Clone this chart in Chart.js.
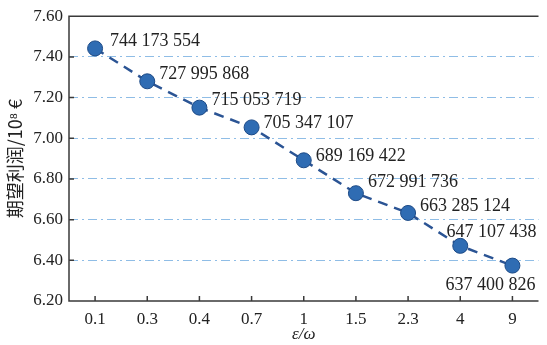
<!DOCTYPE html>
<html>
<head>
<meta charset="utf-8">
<script src="https://cdn.jsdelivr.net/npm/chart.js@4"></script>
<style>
  html, body { margin: 0; padding: 0; background: #fff; }
  #wrap { width: 547px; height: 345px; }
</style>
</head>
<body>
<div id="wrap"><canvas id="myChart" width="547" height="345"></canvas></div>
<script>
// x categories (epsilon/omega)
const ratios = ['0.1', '0.3', '0.4', '0.7', '1', '1.5', '2.3', '4', '9'];
// expected profit, in 10^8 euro
const profit = [7.44173554, 7.27995868, 7.15053719, 7.05347107, 6.89169422, 6.72991736, 6.63285124, 6.47107438, 6.37400826];
// point labels as printed
const profitText = ['744 173 554', '727 995 868', '715 053 719', '705 347 107', '689 169 422', '672 991 736', '663 285 124', '647 107 438', '637 400 826'];
const yTicks = [6.20, 6.40, 6.60, 6.80, 7.00, 7.20, 7.40, 7.60];

const serif = '"Liberation Serif", "Times New Roman", serif';
const axisColor = '#3a3a3a';

// axis lines, top frame, ticks pointing inward
const frame = {
  id: 'frame',
  afterDraw(chart) {
    const ctx = chart.ctx;
    const a = chart.chartArea;
    const xs = chart.scales.x, ys = chart.scales.y;
    ctx.save();
    ctx.setLineDash([]);
    ctx.strokeStyle = axisColor;
    ctx.lineWidth = 1.5;
    ctx.beginPath();
    ctx.moveTo(a.right, a.top);
    ctx.lineTo(a.left, a.top);
    ctx.lineTo(a.left, a.bottom);
    ctx.lineTo(a.right, a.bottom);
    for (let i = 0; i < ratios.length; i++) {
      const x = xs.getPixelForTick(i);
      ctx.moveTo(x, a.bottom);
      ctx.lineTo(x, a.bottom - 5);
    }
    for (let i = 0; i < ys.ticks.length; i++) {
      const y = ys.getPixelForTick(i);
      ctx.moveTo(a.left, y);
      ctx.lineTo(a.left + 5, y);
    }
    ctx.stroke();
    ctx.restore();
  }
};

// value labels next to points
const pointLabels = {
  id: 'pointLabels',
  afterDatasetsDraw(chart) {
    const ctx = chart.ctx;
    const pts = chart.getDatasetMeta(0).data;
    ctx.save();
    ctx.font = '18px ' + serif;
    ctx.fillStyle = '#222';
    ctx.textBaseline = 'middle';
    const last = pts.length - 1;
    pts.forEach((p, i) => {
      if (i === last) {
        ctx.textAlign = 'right';
        ctx.fillText(profitText[i], chart.chartArea.right - 3, p.y + 20);
      } else if (i === last - 1) {
        ctx.textAlign = 'right';
        ctx.fillText(profitText[i], chart.chartArea.right - 2, p.y - 14);
      } else {
        ctx.textAlign = 'left';
        const dy = i === 5 ? -11 : (i === 3 || i === 4 ? -4 : -7);
        const dx = i === 0 ? 15 : 12;
        ctx.fillText(profitText[i], p.x + dx, p.y + dy);
      }
    });
    ctx.restore();
  }
};

new Chart(document.getElementById('myChart'), {
  type: 'line',
  data: {
    labels: ratios,
    datasets: [{
      data: profit,
      borderColor: '#2b5494',
      borderWidth: 2.5,
      borderDash: [10, 7],
      pointRadius: 7.5,
      pointBackgroundColor: '#2f6cb3',
      pointBorderColor: '#1d4a86',
      pointBorderWidth: 1,
      tension: 0
    }]
  },
  options: {
    responsive: false,
    animation: false,
    layout: { padding: { top: 16, right: 0, bottom: 0, left: 0 } },
    plugins: { legend: { display: false }, tooltip: { enabled: false } },
    scales: {
      x: {
        type: 'category',
        offset: true,
        afterFit(s) { s.height = 44; },
        grid: { display: false, drawTicks: false },
        border: { display: false },
        ticks: { color: '#222', padding: 8, font: { family: serif, size: 17 }, maxRotation: 0 },
        title: {
          display: true, text: 'ε/ω', color: '#222',
          font: { family: serif, size: 17, style: 'italic' },
          padding: { top: 0, bottom: 0 }
        }
      },
      y: {
        min: 6.2, max: 7.6,
        afterFit(s) { s.width = 69; },
        afterBuildTicks(s) { s.ticks = yTicks.map(v => ({ value: v })); },
        grid: {
          drawTicks: false,
          color: c => (c.index === 0 || c.index === yTicks.length - 1) ? 'rgba(255,255,255,0)' : '#8fbde6',
          lineWidth: 1
        },
        // border.dash sets the dash of the grid lines in v4
        border: { display: false, dash: [9, 4, 2, 4] },
        ticks: {
          color: '#222', padding: 6,
          font: { family: serif, size: 17 },
          callback: v => v.toFixed(2)
        },
        title: {
          display: true, text: '期望利润/10⁸ €', color: '#222',
          font: { family: '"Noto Sans CJK SC", ' + serif, size: 18 },
          padding: { top: 4, bottom: 2 }
        }
      }
    }
  },
  plugins: [frame, pointLabels]
});
</script>
</body>
</html>
